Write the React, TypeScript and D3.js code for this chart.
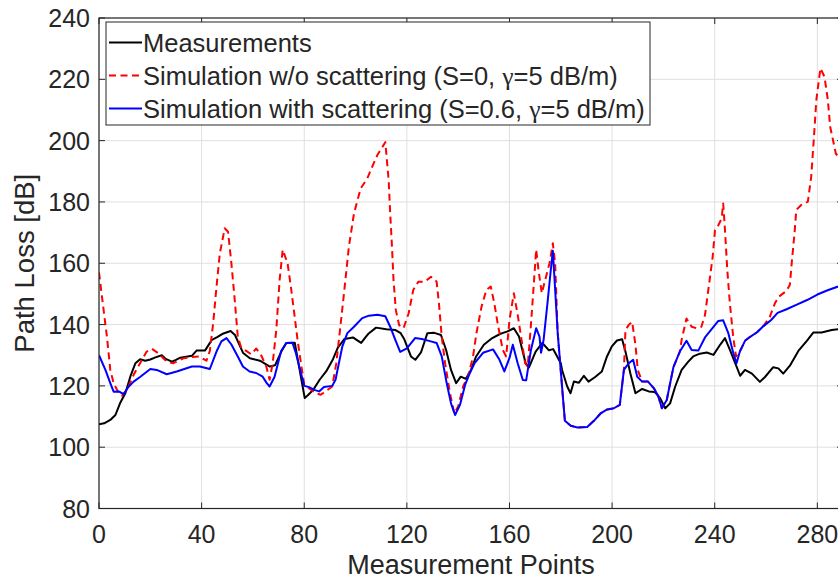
import React from "react";
import * as d3 from "d3";

const xTicks = [0, 40, 80, 120, 160, 200, 240, 280];
const yTicks = [80, 100, 120, 140, 160, 180, 200, 220, 240];

const legendLabels = [
  "Measurements",
  "Simulation w/o scattering (S=0, ",
  "Simulation with scattering (S=0.6, ",
];

const measurements: [number, number][] = [
  [0, 107.5], [2, 107.8], [4.4, 108.9], [6.4, 110.5], [8.3, 114.5], [10.3, 117.7], [12.2, 123], [14.2, 127.4], [16, 128.7], [18, 128.2],
  [20, 128.6], [22, 129.3], [24.5, 130], [26, 128.8], [28.4, 127.9], [30, 128.5], [31.7, 129.2], [34, 129.5], [36.2, 129.8], [38, 131.5],
  [41.3, 131.5], [44, 135], [45.9, 135.8], [48.5, 137.1], [51.3, 137.9], [53, 136.6], [56.2, 130.7], [58.8, 129], [62.7, 128.2], [66.6, 126.3],
  [68.6, 126.7], [71.2, 131.4], [73, 134], [76.3, 134.1], [78.9, 122], [80.2, 116], [81.5, 117], [83.5, 118.7], [86, 122], [88.6, 124.8],
  [91.2, 128.7], [93.1, 132.5], [95.7, 135.3], [99, 135.8], [100.4, 135], [102.2, 134], [104, 136], [105, 137], [108, 139], [112, 138.5],
  [115.6, 138.2], [117.6, 137.2], [119, 135.2], [121.6, 129.6], [123.3, 128.5], [125.5, 130.9], [128, 137.2], [130.7, 137.3], [133.3, 136.6], [135.3, 131.7],
  [137.2, 125.2], [139.2, 120.9], [141, 123], [143, 122.3], [145, 125.2], [147, 129.6], [150, 133.4], [153.3, 135.6], [156.5, 137], [159, 137.7],
  [161.7, 138.8], [163.7, 136.1], [166.3, 127.4], [167.6, 126], [170.2, 131.2], [172.8, 134], [175.4, 131.6], [177, 132], [180, 127.4], [180.5, 125.2],
  [182.5, 119.8], [183.8, 117.6], [185.1, 121.4], [187, 121], [189, 123.3], [190.8, 121.4], [193.4, 122.9], [196, 124.7], [198, 129.6], [199.9, 132.9],
  [201.9, 134.8], [203.9, 135.2], [205.2, 131.2], [207.1, 124.1], [209.1, 117.6], [211.7, 119], [214.3, 118.2], [216.7, 118], [218.7, 116], [220.7, 112.7],
  [222.6, 114.3], [224.6, 119.8], [227.1, 125.2], [229.7, 127.9], [231.6, 129.6], [234.2, 130.5], [236.9, 130.9], [239.5, 130.1], [242.1, 133.4], [244, 135.6],
  [246, 131.6], [248.6, 126.1], [249.9, 123.3], [251.8, 125.2], [254.5, 124], [257.6, 121.3], [259.6, 122.9], [262.8, 126.1], [264.8, 125.7], [266.7, 124],
  [269.3, 126.6], [272.6, 131.4], [275.9, 134.7], [278.4, 137.4], [281.7, 137.4], [285.6, 138.2], [288.1, 138.5],
];

const simNoScattering: [number, number][] = [
  [0, 157], [1.8, 144.7], [3.1, 136], [4.4, 125.2], [5.7, 120.9], [7.7, 117.6], [9, 116.8], [10.9, 118.7], [13.5, 123.6], [16, 127.4],
  [18.6, 131.2], [20.6, 132.1], [23.2, 130.6], [26.4, 127.9], [29, 127.4], [32.9, 129], [36.2, 129.4], [39, 129.6], [41.9, 128.2], [43.2, 131.4],
  [44.5, 140.4], [45.8, 152.3], [47.1, 163.2], [49, 171.4], [50.3, 170.3], [51.6, 160], [52.8, 149.1], [54.1, 136], [55.4, 132.5], [57.4, 131.4],
  [59.3, 130.3], [61.3, 132.2], [63.2, 130], [65.2, 126.3], [66.5, 122], [67.7, 127.4], [69.1, 138.2], [70.4, 154.5], [71.6, 164.4], [73.5, 160],
  [74.8, 152.3], [76.1, 143.7], [77.4, 135], [78.7, 127.4], [80, 120.5], [81.9, 119.2], [84.5, 117.6], [86.4, 117.1], [88.3, 118.2], [90.9, 119.8],
  [92.5, 127.4], [93.8, 137.2], [95.5, 150.2], [97.4, 165.4], [99.4, 176.3], [102, 184.4], [104.6, 187.7], [106.5, 191.5], [108.5, 195.3], [111.6, 199.5],
  [112.9, 187.1], [113.5, 176.3], [114.2, 165.4], [114.8, 154.5], [115.7, 144.7], [117, 139.8], [118.7, 138.8], [120.7, 143.7], [122.5, 151.3], [124.5, 154],
  [127.1, 154], [129.4, 155.6], [131.6, 154], [132.5, 146.9], [133.6, 136], [134.9, 127.4], [136.8, 117.6], [138.5, 111], [140, 113.3], [142, 120],
  [143.8, 123], [145.8, 129.6], [147.1, 137.1], [149.1, 145.8], [151, 151.3], [152.7, 152.4], [154.1, 146.9], [155.4, 140.3], [157.4, 131.7], [158.7, 129.6],
  [160, 141.5], [161.7, 150.2], [163.2, 143.2], [164.5, 136.1], [166.1, 127.4], [167.1, 126.3], [168.4, 140.3], [169.5, 153.5], [170.4, 164.5], [171.3, 157.8],
  [172.6, 150.2], [173.6, 153.5], [175.6, 160], [176.9, 166.5], [177.8, 160], [178.8, 137.2], [180.8, 116.6], [181.6, 108.6], [183.9, 107], [186.5, 106.4],
  [190.3, 106.6], [192.9, 108.6], [195.5, 111], [198.1, 112.3], [200.7, 112.7], [203, 113.8], [204.6, 125.2], [205.2, 138.2], [206.5, 139.9], [207.8, 140.9],
  [209.1, 133.4], [210, 125.2], [211.7, 121.4], [214, 121.4], [216.3, 119.2], [218, 116.6], [219.4, 112.7], [221.3, 115.4], [223.9, 126.1], [226.4, 131.2],
  [227.1, 135], [229, 142], [231, 139.3], [232.9, 138.8], [234.8, 139.3], [236.2, 143.1], [237.5, 151.3], [239.2, 162.1], [240.1, 170.8], [241.4, 172.4],
  [242.7, 174.6], [243.3, 179.5], [244, 170.8], [244.9, 157.8], [245.9, 146.9], [247.2, 136], [248.3, 129.6], [249.8, 131.2], [251.8, 134.7], [253.8, 136],
  [256.5, 137.5], [259, 139.5], [261.5, 142.6], [263.5, 147], [265, 149.1], [268, 151], [269.3, 153], [270, 160], [271.1, 169.8], [271.8, 177.4],
  [273.7, 179], [276.3, 180.1], [277.6, 188.2], [278.6, 200.2], [279.6, 213.2], [281.2, 223.6], [282.8, 220.8], [284.1, 213.2], [285, 204.5], [286.1, 200.2],
  [287.2, 195.8], [288.5, 194.5],
];

const simScattering: [number, number][] = [
  [0, 130], [2.5, 125.2], [4.4, 120.9], [5.7, 118.1], [7.7, 118.2], [9.6, 117.3], [11.6, 119.8], [13.5, 121.4], [16, 122.9], [20, 125.5],
  [22.5, 125.2], [26.4, 123.8], [30.3, 124.7], [36.2, 126.3], [39.3, 126.3], [43.2, 125.5], [45.8, 131.2], [47.7, 134.5], [49.7, 135.6], [51.6, 133.5],
  [54.1, 129.6], [56.1, 126.3], [58.7, 124.7], [61.3, 124.2], [63.8, 123], [65.4, 120.9], [66.5, 119.8], [68.4, 122.9], [71, 131.4], [73, 134],
  [75.4, 134.1], [76.7, 130.8], [78.7, 124.2], [80, 120], [81.9, 119.6], [83.9, 118.7], [85.8, 118.2], [87.7, 119.6], [90.9, 120], [92.2, 122],
  [93.5, 127.4], [94.8, 132.7], [96.8, 137.2], [99.4, 139.3], [102.6, 142.1], [105.2, 142.9], [108.5, 143.2], [111.6, 142.7], [113.5, 139.3], [115.5, 135],
  [117.4, 131.1], [120, 132.2], [123.2, 135.6], [125.8, 135.3], [129, 134.6], [131.6, 134], [133.6, 129.6], [135.5, 121], [137.2, 114.3], [138.8, 110.5],
  [140.7, 113.8], [142.7, 120.3], [144.2, 123.5], [146.4, 127.4], [149.7, 130.8], [153.6, 131.9], [156.1, 128.5], [158, 124.7], [160, 129.1], [161.3, 133.4],
  [163.2, 127.4], [165.2, 121.9], [166.5, 121.8], [168.4, 131.9], [170.4, 138.8], [171.7, 136.1], [172.3, 130.8], [173.3, 135], [174.8, 146.9], [176.1, 157.8],
  [176.9, 164.1], [178.8, 137.2], [180.8, 116.6], [181.6, 108.6], [183.9, 107], [186.5, 106.4], [190.3, 106.6], [192.9, 108.6], [195.5, 111], [198.1, 112.3],
  [200.7, 112.7], [203, 113.8], [204.6, 125.2], [206.5, 127.4], [208.2, 128.5], [209.8, 123], [211.7, 121.4], [214, 121.4], [216.3, 119.2], [218, 116.6],
  [219.4, 112.7], [221.3, 115.4], [223.9, 126.1], [226.4, 131.2], [229, 134.7], [231, 131.7], [233.6, 131.5], [236.2, 135.8], [238.8, 138.5], [241.4, 141.2],
  [243.3, 141.4], [245.3, 137.2], [247.2, 130.8], [248.5, 127.4], [249.8, 131.2], [251.8, 134.7], [253.8, 136], [256.5, 137.5], [259, 139.5], [262, 141.5],
  [264.5, 143.8], [268, 145], [272, 146.5], [276, 148], [280, 149.8], [284, 151.2], [288.1, 152.4],
];

const W = 838;
const H = 581;
const FONT = "'Liberation Sans', Arial, Helvetica, sans-serif";
const AX = "#262626";

export default function App() {
  const x = d3.scaleLinear().domain([0, 290]).range([99, 843]);
  const y = d3.scaleLinear().domain([80, 240]).range([508.5, 18]);
  const [x0, x1] = x.range();
  const [y0, y1] = y.range();
  const line = d3
    .line<[number, number]>()
    .x((d) => x(d[0]))
    .y((d) => y(d[1]));

  const legendX = 106;
  const legendY = 22;
  const rowY = [42.5, 75.5, 108.5];

  return (
    <svg
      width={W}
      height={H}
      style={{ position: "absolute", left: 0, top: 0, background: "#fff" }}
      fontFamily={FONT}
    >
      <defs>
        <clipPath id="plotclip">
          <rect x={x0} y={y1} width={x1 - x0} height={y0 - y1} />
        </clipPath>
      </defs>
      <rect x={0} y={0} width={W} height={H} fill="#fff" />
      {xTicks.map((t) => (
        <line key={"gx" + t} x1={x(t)} x2={x(t)} y1={y0} y2={y1} stroke="#dfdfdf" strokeWidth={1} />
      ))}
      {yTicks.map((t) => (
        <line key={"gy" + t} x1={x0} x2={x1} y1={y(t)} y2={y(t)} stroke="#dfdfdf" strokeWidth={1} />
      ))}
      <g clipPath="url(#plotclip)" fill="none">
        <path d={line(measurements) || ""} stroke="#000" strokeWidth={2} strokeLinejoin="round" />
        <path d={line(simNoScattering) || ""} stroke="#ff0000" strokeWidth={2} strokeDasharray="7,4.5" strokeLinejoin="round" />
        <path d={line(simScattering) || ""} stroke="#0000ff" strokeWidth={2} strokeLinejoin="round" />
      </g>
      <rect x={x0} y={y1} width={x1 - x0} height={y0 - y1} fill="none" stroke={AX} strokeWidth={1.2} />
      {xTicks.map((t) => (
        <g key={"tx" + t}>
          <line x1={x(t)} x2={x(t)} y1={y0} y2={y0 - 6} stroke={AX} strokeWidth={1} />
          <line x1={x(t)} x2={x(t)} y1={y1} y2={y1 + 6} stroke={AX} strokeWidth={1} />
          <text x={x(t)} y={543} textAnchor="middle" fontSize={25} fill={AX}>
            {t}
          </text>
        </g>
      ))}
      {yTicks.map((t) => (
        <g key={"ty" + t}>
          <line x1={x0} x2={x0 + 6} y1={y(t)} y2={y(t)} stroke={AX} strokeWidth={1} />
          <line x1={x1} x2={x1 - 6} y1={y(t)} y2={y(t)} stroke={AX} strokeWidth={1} />
          <text x={90} y={y(t) + 9} textAnchor="end" fontSize={25} fill={AX}>
            {t}
          </text>
        </g>
      ))}
      <text x={(x0 + x1) / 2} y={574} textAnchor="middle" fontSize={27} fill={AX}>
        Measurement Points
      </text>
      <text
        transform={`translate(34, ${(y0 + y1) / 2}) rotate(-90)`}
        textAnchor="middle"
        fontSize={27.5}
        fill={AX}
      >
        Path Loss [dB]
      </text>
      <rect x={legendX} y={legendY} width={544} height={103} fill="#fff" stroke={AX} strokeWidth={1} />
      <line x1={109} x2={142} y1={rowY[0]} y2={rowY[0]} stroke="#000" strokeWidth={2} />
      <line x1={109} x2={142} y1={rowY[1]} y2={rowY[1]} stroke="#ff0000" strokeWidth={2} strokeDasharray="7,4.5" />
      <line x1={109} x2={142} y1={rowY[2]} y2={rowY[2]} stroke="#0000ff" strokeWidth={2} />
      <text x={143} y={rowY[0] + 9} fontSize={25.5} fill={AX}>
        {legendLabels[0]}
      </text>
      <text x={143} y={rowY[1] + 9} fontSize={25.5} fill={AX}>
        {legendLabels[1]}
        <tspan fontFamily="'Liberation Serif', 'Times New Roman', serif">γ</tspan>
        =5 dB/m)
      </text>
      <text x={143} y={rowY[2] + 9} fontSize={25.5} fill={AX}>
        {legendLabels[2]}
        <tspan fontFamily="'Liberation Serif', 'Times New Roman', serif">γ</tspan>
        =5 dB/m)
      </text>
    </svg>
  );
}
